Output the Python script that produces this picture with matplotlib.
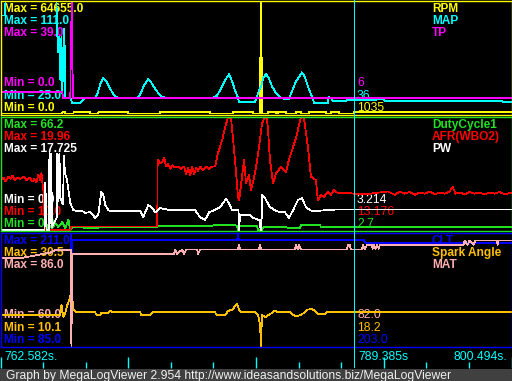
import matplotlib
matplotlib.use("Agg")
import matplotlib.pyplot as plt
import numpy as np
from matplotlib.patches import Rectangle

# ---------------- data ----------------
T0 = 762.582          # left edge of the view (s)
T_SPAN = 37.912       # width of the view (s)
CURSOR_T = 788.79     # cursor position (s)
time_labels = ["762.582s.", "789.385s", "800.494s."]
footer_text = "Graph by MegaLogViewer 2.954 http://www.ideasandsolutions.biz/MegaLogViewer"

# times are seconds after T0
# ---- panel 1 ----
rpm_t = [0, 4.59, 4.59, 4.81, 4.81, 5.41, 5.41, 6.66, 6.66, 7.26, 7.26, 9.48, 9.48,
         11.85, 11.85, 15.55, 15.55, 17.25, 17.25, 18.73, 18.73, 19.24, 19.25, 19.32,
         19.33, 19.34, 19.40, 19.41, 19.85, 19.85, 20.44, 20.44, 20.59, 20.59, 21.18,
         21.18, 21.92, 21.92, 22.29, 22.29, 22.88, 22.88, 24.14, 24.14, 24.51, 24.51,
         25.10, 25.10, 26.21, 26.21, 37.91]
rpm_v = [300, 300, 1000, 1000, 300, 300, 1000, 1000, 300, 300, 1000, 1000, 300,
         300, 1000, 1000, 300, 300, 1000, 1000, 300, 300, 32000, 32000,
         64655, 32000, 32000, 300, 300, 1000, 1000, 300, 300, 1000, 1000,
         300, 300, 1000, 1000, 300, 300, 1000, 1000, 300, 300, 1000,
         1000, 300, 300, 1035, 1035]

map_t = [0, 0.33, 0.37, 4.15, 4.22, 4.29, 4.37, 4.44, 4.52, 4.59, 4.67, 4.74, 4.81,
         5.18, 5.33, 5.92, 6.07,
         6.29, 7.03, 7.18, 7.41, 7.63, 7.85, 8.15, 8.44, 8.74, 10.14, 10.37, 10.66,
         10.96, 11.18, 11.48, 11.85, 12.22, 15.70, 16.07, 16.44, 16.74, 16.96, 17.18,
         17.40, 17.62, 17.70, 18.88, 19.03, 19.18, 19.33, 19.48, 19.70, 19.92, 20.14,
         20.44, 20.81, 21.03, 21.40, 21.62, 21.92, 22.14, 22.36, 22.59, 22.81, 23.03,
         23.18, 23.25, 24.29, 24.36, 24.51, 24.66, 25.62, 25.70, 28.44, 28.51, 37.17,
         37.25, 37.91]
map_v = [100, 100, 111, 111, 84, 72, 84, 51, 84, 41, 78, 90, 37.2,
         37.2, 33.4, 33.4, 35.0,
         37.2, 37.2, 40, 48, 52.4, 50, 44, 39, 37.2, 37.2, 40, 47,
         51.6, 49, 44, 39, 37.2, 37.2, 39, 46, 52, 55.4, 50,
         43, 37.2, 34.1, 34.1, 38, 43, 46, 52, 55.4, 52, 46,
         41, 37.2, 36.5, 36.5, 42, 50, 53, 56.7, 53, 46, 40,
         37.2, 33.4, 33.4, 37.9, 37.2, 35.0, 35.0, 35.7, 36.0, 35.1, 35.1,
         34.1, 34.1]

tp_t = [0, 4.59, 4.63, 5.18, 5.22, 5.29, 5.37, 37.91]
tp_v = [7.6, 7.6, 5.5, 5.5, 22.8, 39.0, 5.5, 5.5]

# ---- panel 2 ----
duty_t = [0, 3.33, 3.55, 3.85, 4.07, 4.29, 4.59, 4.81, 5.04, 5.18, 5.33, 6.15, 6.22,
          7.18, 7.26, 11.63, 11.70, 15.55, 15.92, 17.40, 17.55, 17.62, 17.74, 19.03,
          19.11, 19.40, 19.48, 19.62, 21.10, 21.47, 22.22, 22.29, 23.70, 23.77, 27.77,
          37.91]
duty_v = [0, 0, 2.9, 1.2, 4.1, 1.8, 4.7, 1.2, 5.9, 0, 1.6, 1.6, 1.0,
          1.0, 1.6, 1.6, 2.3, 2.3, 2.9, 2.9, 2.3, 0, 2.3, 2.3,
          0, 0, 1.5, 1.9, 1.9, 1.0, 1.0, 2.9, 2.9, 1.9, 1.9,
          1.6]

afr_t = [0, 0.22, 0.37, 0.59, 0.74, 0.89, 1.04, 1.26, 1.48, 1.70, 1.93, 2.15, 2.37,
         2.52, 2.67, 2.81, 2.96, 3.04, 3.11, 3.18, 3.30, 5.18, 5.22, 11.63, 11.66,
         11.85, 12.00, 12.14, 12.29, 12.44, 12.59, 12.74, 12.96, 13.18, 13.40, 13.63,
         13.77, 13.92, 14.07, 14.22, 14.37, 14.51, 14.66, 14.81, 15.03, 15.25, 15.48,
         15.70, 15.92, 16.14, 16.44, 16.66, 16.88, 17.11, 17.33, 17.48, 17.62, 17.70,
         17.92, 18.07, 18.22, 18.44, 18.59, 18.73, 18.96, 19.18, 19.40, 19.62, 19.77,
         19.85, 19.99, 20.22, 20.44, 20.81, 21.18, 21.40, 21.92, 22.29, 22.51, 22.81,
         23.03, 23.40, 23.55, 23.77, 23.99, 24.29, 24.51, 24.73, 25.03, 25.40, 25.84,
         26.21, 27.40, 28.73, 29.25, 29.62, 29.99, 30.36, 30.73, 31.10, 31.47, 31.84,
         32.21, 32.58, 32.95, 33.32, 33.54, 33.77, 34.06, 34.43, 34.80, 35.17, 35.54,
         35.91, 36.28, 36.65, 37.03, 37.40, 37.91]
afr_v = [14.4, 14.6, 14.3, 14.7, 14.5, 14.8, 14.4, 14.6, 14.5, 14.7, 14.4, 14.6, 14.3,
         14.5, 14.2, 14.9, 14.4, 15.0, 14.2, 13.5, 10.0, 10.0, 10.3, 10.3, 16.2,
         15.9, 16.0, 16.35, 15.6, 15.8, 15.4, 15.7, 15.5, 15.6, 15.4, 15.6,
         14.9, 15.5, 14.8, 15.6, 14.9, 15.5, 15.2, 15.6, 15.3, 15.6, 15.4,
         15.6, 15.6, 16.8, 17.9, 19.0, 19.96, 19.8, 17.05, 15.0, 12.9, 12.6,
         14.7, 16.2, 14.1, 14.85, 13.5, 14.2, 15.55, 17.3, 19.4, 19.96, 19.8,
         18.8, 16.2, 14.1, 15.0, 15.55, 15.1, 16.2, 18.1, 19.96, 19.9, 17.3,
         14.7, 14.4, 12.6, 13.1, 12.9, 13.4, 13.1, 13.5, 13.25, 13.3, 13.25,
         13.2, 13.2, 13.4, 13.1, 13.4, 13.2, 13.35, 13.1, 13.3, 13.2, 13.4,
         13.15, 13.3, 13.2, 13.4, 13.8, 13.2, 13.3, 13.15, 13.35, 13.2, 13.3,
         13.15, 13.3, 13.2, 13.35, 13.15, 13.3]

pw_t = [0, 3.26, 3.33, 3.41, 3.59, 3.63, 3.70, 3.75, 3.83, 4.18, 4.22, 4.29, 4.37,
        4.44, 4.64, 4.70, 4.78, 4.94, 5.18, 5.41, 5.70, 6.15, 6.29, 6.66, 7.03,
        7.26, 7.48, 7.63, 7.78, 8.00, 8.15, 10.37, 10.59, 10.96, 11.26, 11.48, 11.85,
        12.59, 13.33, 14.44, 14.81, 15.18, 15.48, 15.85, 16.29, 16.74, 17.03, 17.18,
        17.66, 17.70, 17.77, 18.51, 18.66, 19.11, 19.25, 19.29, 19.36, 19.40, 19.62,
        19.99, 20.36, 20.73, 21.10, 21.40, 21.70, 22.07, 22.36, 22.66, 22.96, 23.33,
        24.07, 24.81, 37.91]
pw_v = [0, 0, 7.4, 0, 0, 12.1, 1.0, 12.0, 0.5, 2.0, 12.0, 4.5, 12.0,
        5.0, 4.0, 11.6, 9.0, 7.8, 4.2, 3.1, 3.0, 2.9, 2.7, 2.8, 1.9,
        2.5, 6.0, 5.5, 3.9, 3.1, 3.0, 3.0, 2.0, 3.9, 3.45, 2.8, 3.45,
        3.1, 3.2, 3.1, 2.0, 1.6, 2.8, 3.1, 3.6, 4.9, 3.9, 3.1,
        3.1, 0, 2.4, 2.4, 2.0, 1.6, 1.6, 0, 0, 5.5, 5.0,
        3.6, 3.1, 2.8, 2.8, 1.9, 3.1, 4.7, 5.0, 3.6, 3.1, 2.95,
        3.1, 3.2, 3.2]

# ---- panel 3 ----
clt_t = [0, 5.22, 5.26, 5.33, 17.55, 17.62, 17.70, 26.95, 27.10, 37.91]
clt_v = [211, 211, 85, 203.2, 203.2, 208.4, 203.2, 203.2, 199.8, 199.8]

spark_t = [0, 4.29, 4.44, 4.52, 4.59, 4.67, 4.81, 4.96, 5.11, 5.18, 5.26, 5.33, 5.41,
           5.55, 5.63, 7.03, 7.11, 7.41, 7.48, 8.00, 8.15, 8.29, 10.37, 10.44, 11.11,
           11.26, 15.92, 16.07, 16.66, 16.88, 17.18, 17.55, 17.70, 17.85, 18.88, 19.11,
           19.25, 19.33, 19.40, 19.62, 19.85, 20.14, 20.36, 20.59, 21.47, 21.62, 21.92,
           22.22, 22.51, 22.73, 23.10, 23.33, 23.55, 24.07, 24.21, 37.91]
spark_v = [15.7, 15.7, 15.6, 17.56, 16.5, 15.34, 16.06, 17.56, 18.46, 19.13, 16.65, 18.77, 16.65,
           16.4, 16.18, 16.18, 15.75, 15.75, 16.06, 16.06, 16.47, 16.18, 16.18, 15.64, 15.64,
           16.18, 16.18, 15.64, 15.64, 16.42, 16.65, 17.68, 16.65, 16.18, 16.18, 15.64,
           13.95, 10.1, 15.75, 15.28, 15.64, 16.06, 16.47, 16.18, 16.18, 15.88, 15.46,
           15.64, 16.06, 16.65, 16.78, 16.47, 15.88, 15.88, 16.18, 16.18]

mat_t = [0, 1.48, 3.70, 4.07, 5.22, 5.26, 5.33, 12.88, 12.96, 13.11, 13.48, 13.63, 13.77,
         14.59, 14.66, 14.81, 17.62, 17.70, 17.77, 19.18, 19.25, 19.33, 21.84, 21.92,
         22.07, 22.14, 22.29, 25.70, 25.77, 25.92, 25.99, 26.81, 26.88, 27.03, 27.18,
         27.55, 27.62, 27.70, 27.84, 27.92, 28.07, 28.14, 34.36, 34.43, 34.66, 34.80,
         35.10, 35.25, 36.80, 36.88, 36.95, 37.91]
mat_v = [80.2, 80.2, 81.5, 82.1, 82.1, 60.0, 81.2, 81.2, 82.2, 81.2, 82.2, 81.2, 82.2,
         82.2, 81.2, 82.2, 82.2, 83.2, 82.2, 82.2, 83.2, 82.2, 82.2, 83.2,
         82.2, 83.2, 82.2, 82.2, 83.2, 83.2, 82.2, 82.2, 83.2, 82.2, 83.2,
         83.2, 82.4, 83.2, 82.4, 83.2, 82.4, 83.3, 83.3, 84.3, 83.3, 84.3,
         83.3, 84.3, 84.3, 83.3, 84.3, 84.3]

# series: name, times, values, min, max, cursor readout
panel1_series = [("RPM", rpm_t, rpm_v, 0.0, 64655.0, "1035"),
                 ("MAP", map_t, map_v, 25.0, 111.0, "36"),
                 ("TP", tp_t, tp_v, 0.0, 39.0, "6")]
panel2_series = [("DutyCycle1", duty_t, duty_v, 0.0, 66.2, "2.7"),
                 ("AFR(WBO2)", afr_t, afr_v, 10.0, 19.96, "13.176"),
                 ("PW", pw_t, pw_v, 0.0, 17.725, "3.214")]
panel3_series = [("CLT", clt_t, clt_v, 85.0, 211.0, "203.0"),
                 ("Spark Angle", spark_t, spark_v, 10.1, 30.5, "18.2"),
                 ("MAT", mat_t, mat_v, 60.0, 86.0, "82.0")]

# ---------------- style / layout ----------------
W, H = 512, 381
FONT = ["Liberation Sans", "DejaVu Sans"]
panel_colors = [["#ffff00", "#00ffff", "#ff00ff"],
                ["#22e022", "#ff0000", "#ffffff"],
                ["#0000ff", "#ffc000", "#ffafaf"]]
panel_boxes = [(0, 115), (116, 231), (232, 347)]
CYAN = "#00ffff"
BOLD_SIZE = 8.6
REG_SIZE = 8.7
LW = 0.55

fig = plt.figure(figsize=(W / 100, H / 100), dpi=100, facecolor="black")


def fbox(x0, y0, x1, y1):
    return [x0 / W, 1 - y1 / H, (x1 - x0) / W, (y1 - y0) / H]


def ftext(x, y, s, color, bold=True, ha="left"):
    fig.text(x / W, 1 - y / H, s, color=color, ha=ha, va="baseline",
             fontsize=BOLD_SIZE if bold else REG_SIZE,
             fontweight="bold" if bold else "normal", family=FONT, zorder=1)


X0, X1 = 0.5, 511.5
all_series = [panel1_series, panel2_series, panel3_series]
for series, colors, (top, bot) in zip(all_series, panel_colors, panel_boxes):
    ax = fig.add_axes(fbox(X0, top + 0.7, X1, bot - 0.2), zorder=5)
    ax.set_facecolor("none")
    ax.set_xlim(T0, T0 + T_SPAN)
    ax.set_xticks([])
    ax.set_yticks([])
    for sp in ax.spines.values():
        sp.set_color(colors[0])
        sp.set_linewidth(1.0)
        sp.set_zorder(6)
    # normalised scale: min value at pixel (bot-1), max value at pixel (top+1)
    atop, abot = top + 0.7, bot - 0.2
    f0 = (abot - (bot - 1)) / (abot - atop)
    f1 = (abot - (top + 1)) / (abot - atop)
    lo = -f0 / (f1 - f0)
    ax.set_ylim(lo, lo + 1 / (f1 - f0))
    for (name, t, v, vmin, vmax, cur), c in zip(series, colors):
        tt = T0 + np.asarray(t, dtype=float)
        n = (np.asarray(v, dtype=float) - vmin) / (vmax - vmin)
        ax.plot(tt, n, color=c, lw=LW, antialiased=False, zorder=3)

    # labels
    max_rows = [top + 11.8, top + 24.0, top + 36.2]
    min_rows = [bot - 4.2, bot - 16.3, bot - 28.5]
    for i, ((name, t, v, vmin, vmax, cur), c) in enumerate(zip(series, colors)):
        ftext(4, max_rows[i], f"Max = {vmax}", c)
        ftext(4, min_rows[i], f"Min = {vmin}", c)
        ftext(432, max_rows[i], name, c)
        ftext(357, min_rows[i], cur, c, bold=False)

# time strip with ticks
tax = fig.add_axes(fbox(X0, 348, X1, 368), zorder=5)
tax.set_facecolor("none")
tax.set_xlim(T0, T0 + T_SPAN)
tax.set_ylim(0, 1)
for sp in tax.spines.values():
    sp.set_visible(False)
tax.set_yticks([])
tax.set_xticks([T0 + T_SPAN * k / 4 for k in range(5)])
tax.set_xticks([T0 + T_SPAN * k / 12 for k in range(12) if k % 3], minor=True)
tax.tick_params(axis="x", which="major", direction="in", length=8.0, width=1.0,
                color=CYAN, labelbottom=False)
tax.tick_params(axis="x", which="minor", direction="in", length=4.0, width=1.0,
                color=CYAN, labelbottom=False)
ftext(4, 359.7, time_labels[0], CYAN, bold=False)
ftext(358, 359.7, time_labels[1], CYAN, bold=False)
ftext(507, 359.7, time_labels[2], CYAN, bold=False, ha="right")

# cursor line overlay
cax = fig.add_axes(fbox(X0, 0, X1, 368), zorder=8)
cax.set_facecolor("none")
cax.set_xlim(T0, T0 + T_SPAN)
cax.set_ylim(0, 1)
cax.axis("off")
cax.axvline(CURSOR_T, color=CYAN, lw=LW, antialiased=False)

# footer
fig.patches.append(Rectangle((0, 0), 1, 12 / H, transform=fig.transFigure,
                             facecolor="#404040", edgecolor="none", zorder=0))
fig.text(6 / W, 1 - 378.5 / H, footer_text, color="#f0f0f0", fontsize=REG_SIZE,
         family=FONT, va="baseline", ha="left", zorder=2)

fig.savefig("out.png", dpi=100, facecolor="black")
